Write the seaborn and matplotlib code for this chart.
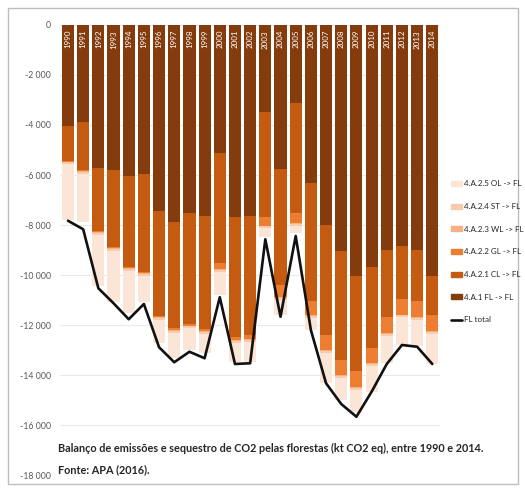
import numpy as np
import pandas as pd
import matplotlib
matplotlib.use("Agg")
import matplotlib.pyplot as plt
import matplotlib.patches as mpatches
from matplotlib.lines import Line2D
import seaborn as sns

years = [str(y) for y in range(1990, 2015)]

# kt CO2 eq (sequestration shown as negative)
fl_fl = [-4040, -3890, -5710, -5800, -6040, -5970, -7440, -7890, -7530, -7640, -5130, -7670, -7640,
         -3470, -5760, -3110, -6330, -8000, -9050, -10040, -9670, -8980, -8820, -9000, -10040]
cl_fl = [-1390, -1910, -2530, -3070, -3630, -3920, -4180, -4240, -4430, -4530, -4390, -4800, -4770,
         -4200, -4640, -4410, -4710, -4400, -4350, -3790, -3260, -2700, -2130, -2040, -1560]
gl_fl = [-40, -40, -40, -40, -40, -40, -60, -70, -60, -70, -250, -130, -140,
         -360, -470, -420, -560, -600, -600, -640, -590, -640, -630, -630, -630]
wl_fl = [-30] * 25
st_fl = [-80] * 25
ol_fl = [-2220, -1950, -2060, -2050, -1710, -1030, -940, -1020, -870, -780, -920, -760, -810,
         -330, -620, -280, -490, -1220, -890, -950, -1040, -1100, -1110, -1060, -1210]
fl_total = [-7830, -8170, -10530, -11130, -11770, -11160, -12890, -13490, -13070, -13330, -10890, -13560, -13530,
            -8570, -11670, -8440, -12200, -14330, -15160, -15670, -14670, -13560, -12800, -12870, -13560]

series = ["4.A.1 FL -> FL", "4.A.2.1 CL -> FL", "4.A.2.2 GL -> FL",
          "4.A.2.3 WL -> FL", "4.A.2.4 ST -> FL", "4.A.2.5 OL -> FL"]
colors = ["#843C0C", "#C55A11", "#ED7D31", "#F4B183", "#F8CBAD", "#FBE5D6"]

df = pd.DataFrame({"year": years, series[0]: fl_fl, series[1]: cl_fl, series[2]: gl_fl,
                   series[3]: wl_fl, series[4]: st_fl, series[5]: ol_fl})
cum = df[series].cumsum(axis=1)

sns.set_style("white")
plt.rcParams["font.family"] = ["Lato", "DejaVu Sans"]

fig = plt.figure(figsize=(5.25, 4.9), dpi=100)
ax = fig.add_axes([60.4 / 525, 15 / 490, 379.5 / 525, 450 / 490])

# draw cumulative stacks from the deepest down to the top segment
for name, col in reversed(list(zip(series, colors))):
    sns.barplot(x=df["year"], y=cum[name], color=col, width=0.8, saturation=1,
                linewidth=0, ax=ax, zorder=2)

sns.lineplot(x=np.arange(len(years)), y=fl_total, color="#111111", linewidth=1.9, ax=ax, zorder=4)

for i, y in enumerate(years):
    ax.text(i, -200, y, rotation=90, ha="center", va="top", color="white", fontsize=5.8, zorder=5)

ax.set_ylim(-18000, 0)
ax.set_xlim(-0.5, len(years) - 0.5)
ticks = list(range(0, -18001, -2000))
ax.set_yticks(ticks)
ax.set_yticklabels([f"{t:,}".replace(",", " ") for t in ticks], fontsize=6.3, color="#595959")
ax.tick_params(axis="y", length=0, pad=7)
ax.set_xticks([])
ax.set_xlabel("")
ax.set_ylabel("")
ax.grid(axis="y", color="#EAEAEA", linewidth=0.8, zorder=0)
ax.set_axisbelow(True)
for s in ax.spines.values():
    s.set_visible(False)

handles = [mpatches.Patch(color=c, label=n) for n, c in zip(series, colors)][::-1]
handles.append(Line2D([0], [0], color="#111111", linewidth=1.9, label="FL total"))
fig.legend(handles=handles, loc="upper left", bbox_to_anchor=(448 / 525, 1 - 177 / 490),
           frameon=False, fontsize=5.8, labelspacing=1.95, handlelength=1.3, handleheight=0.55,
           handletextpad=0.25, borderaxespad=0)

fig.text(58 / 525, 1 - 448 / 490,
         "Balanço de emissões e sequestro de CO2 pelas florestas (kt CO2 eq), entre 1990 e 2014.",
         fontsize=7.8, fontweight="bold", color="#262626", va="center")
fig.text(58 / 525, 1 - 470 / 490, "Fonte: APA (2016).",
         fontsize=7.8, fontweight="bold", color="#262626", va="center")

fig.patches.append(mpatches.Rectangle((8 / 525, 6 / 490), 510 / 525, 476 / 490, transform=fig.transFigure,
                                      fill=False, edgecolor="#BDBDBD", linewidth=1))

fig.savefig("out.png", dpi=100)
